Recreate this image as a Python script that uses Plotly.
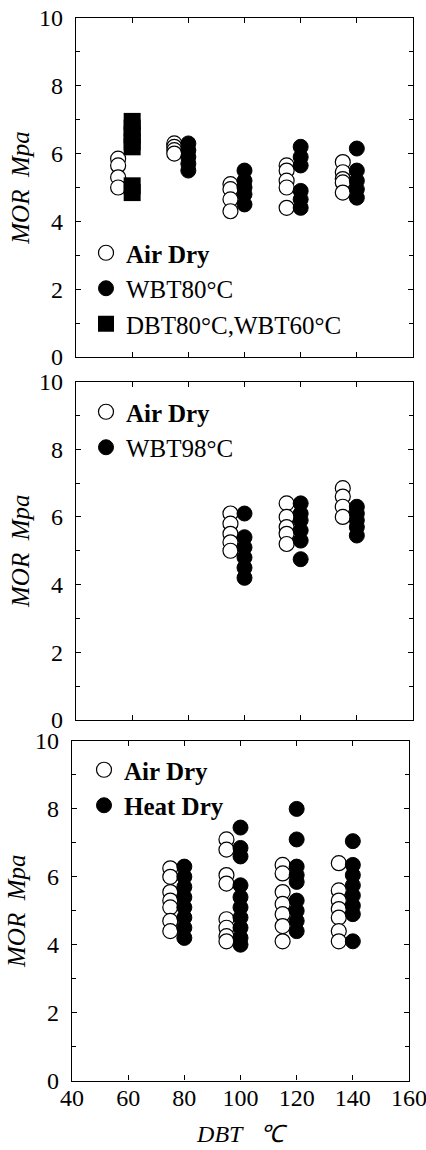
import plotly.graph_objects as go

# ---------------- data ----------------
# Panel 1
p1_air_x = [55]*4 + [75]*4 + [95]*4 + [115]*5 + [135]*5
p1_air_y = [5.85, 5.65, 5.3, 5.0,
            6.3, 6.2, 6.1, 6.0,
            5.1, 4.95, 4.65, 4.3,
            5.65, 5.5, 5.2, 5.0, 4.4,
            5.75, 5.45, 5.25, 5.15, 4.85]
p1_wbt80_x = [80]*5 + [100]*5 + [120]*6 + [140]*5
p1_wbt80_y = [6.3, 6.1, 5.9, 5.7, 5.5,
              5.5, 5.2, 5.0, 4.8, 4.5,
              6.2, 5.9, 5.65, 4.9, 4.65, 4.4,
              6.15, 5.5, 5.2, 4.95, 4.7]
p1_dbt_x = [60]*7
p1_dbt_y = [6.95, 6.75, 6.55, 6.35, 6.2, 5.05, 4.85]

# Panel 2
p2_air_x = [95]*5 + [115]*5 + [135]*4
p2_air_y = [6.1, 5.8, 5.5, 5.25, 5.0,
            6.4, 6.0, 5.7, 5.5, 5.2,
            6.85, 6.6, 6.3, 6.0]
p2_wbt98_x = [100]*6 + [120]*6 + [140]*5
p2_wbt98_y = [6.1, 5.4, 5.1, 4.8, 4.5, 4.2,
              6.4, 6.1, 5.9, 5.6, 5.3, 4.75,
              6.3, 6.1, 5.9, 5.7, 5.45]

# Panel 3
p3_air_x = [75]*7 + [95]*8 + [115]*7 + [135]*7
p3_air_y = [6.25, 6.0, 5.55, 5.3, 5.1, 4.7, 4.4,
            7.1, 6.8, 6.05, 5.8, 4.75, 4.5, 4.25, 4.1,
            6.35, 6.1, 5.55, 5.2, 4.9, 4.55, 4.1,
            6.4, 5.6, 5.3, 5.05, 4.8, 4.4, 4.1]
p3_heat_x = [80]*8 + [100]*10 + [120]*9 + [140]*8
p3_heat_y = [6.3, 6.0, 5.7, 5.4, 5.1, 4.8, 4.5, 4.2,
             7.45, 6.85, 6.6, 5.75, 5.4, 5.1, 4.8, 4.5, 4.2, 4.0,
             8.0, 7.1, 6.3, 6.05, 5.85, 5.3, 5.0, 4.7, 4.4,
             7.05, 6.35, 6.05, 5.75, 5.45, 5.15, 4.9, 4.1]

x_ticks = [40, 60, 80, 100, 120, 140, 160]
y_ticks = [0, 2, 4, 6, 8, 10]

# ---------------- figure ----------------
W, H = 426, 1150
SERIF = "Liberation Serif, Times New Roman, serif"

def open_marker():
    return dict(symbol="circle", size=15, color="white",
                line=dict(color="black", width=1.2))

def filled_marker():
    return dict(symbol="circle", size=15, color="black",
                line=dict(color="black", width=1))

fig = go.Figure()

# panel 1
fig.add_trace(go.Scatter(x=p1_air_x, y=p1_air_y, mode="markers", name="<b>Air Dry</b>",
                         marker=open_marker(), xaxis="x", yaxis="y", legend="legend"))
fig.add_trace(go.Scatter(x=p1_wbt80_x, y=p1_wbt80_y, mode="markers", name="WBT80°C",
                         marker=filled_marker(), xaxis="x", yaxis="y", legend="legend"))
fig.add_trace(go.Scatter(x=p1_dbt_x, y=p1_dbt_y, mode="markers", name="DBT80°C,WBT60°C",
                         marker=dict(symbol="square", size=17, color="black",
                                     line=dict(color="black", width=0)),
                         xaxis="x", yaxis="y", legend="legend"))
# panel 2
fig.add_trace(go.Scatter(x=p2_air_x, y=p2_air_y, mode="markers", name="<b>Air Dry</b>",
                         marker=open_marker(), xaxis="x2", yaxis="y2", legend="legend2"))
fig.add_trace(go.Scatter(x=p2_wbt98_x, y=p2_wbt98_y, mode="markers", name="WBT98°C",
                         marker=filled_marker(), xaxis="x2", yaxis="y2", legend="legend2"))
# panel 3
fig.add_trace(go.Scatter(x=p3_air_x, y=p3_air_y, mode="markers", name="<b>Air Dry</b>",
                         marker=open_marker(), xaxis="x3", yaxis="y3", legend="legend3"))
fig.add_trace(go.Scatter(x=p3_heat_x, y=p3_heat_y, mode="markers", name="<b>Heat Dry</b>",
                         marker=filled_marker(), xaxis="x3", yaxis="y3", legend="legend3"))

def px_x(p):
    return p / W

def px_y(p):
    return 1 - p / H

def xaxis(domain, show_labels, anchor, title=None):
    d = dict(domain=domain, range=[40, 160], tickvals=x_ticks, automargin=False,
             ticks="inside", ticklen=5, tickwidth=1, tickcolor="black",
             showline=True, linecolor="black", linewidth=1.2, mirror="allticks",
             showgrid=False, zeroline=False, anchor=anchor,
             showticklabels=show_labels, ticklabelstandoff=-4, ticklabeloverflow="allow",
             tickfont=dict(family=SERIF, size=24, color="black"))
    if title:
        d["title"] = dict(text=title, font=dict(family=SERIF, size=24, color="black", style="italic"),
                          standoff=14)
    return d

def yaxis(domain, anchor):
    return dict(domain=domain, range=[0, 10], tickvals=y_ticks, automargin=False,
                ticks="inside", ticklen=5, tickwidth=1, tickcolor="black",
                minor=dict(dtick=1, ticks="inside", ticklen=4, tickcolor="black", showgrid=False),
                showline=True, linecolor="black", linewidth=1.2, mirror="allticks",
                showgrid=False, zeroline=False, anchor=anchor, ticklabelstandoff=7,
                ticklabeloverflow="allow",
                tickfont=dict(family=SERIF, size=24, color="black"),
                title=dict(text="MOR  Mpa", font=dict(family=SERIF, size=25, color="black", style="italic"),
                           standoff=2))

x12_dom = [px_x(76), px_x(413)]
x3_dom = [px_x(72), px_x(409)]

legend_common = dict(font=dict(family=SERIF, size=25, color="black"),
                     bgcolor="rgba(0,0,0,0)", itemsizing="trace",
                     xanchor="left", yanchor="top", borderwidth=0)

fig.update_layout(
    width=W, height=H, margin=dict(l=0, r=0, t=0, b=0, autoexpand=False),
    paper_bgcolor="white", plot_bgcolor="white", showlegend=True,
    xaxis=xaxis(x12_dom, False, "y"),
    yaxis=yaxis([px_y(357), px_y(18)], "x"),
    xaxis2=xaxis(x12_dom, False, "y2"),
    yaxis2=yaxis([px_y(720), px_y(381.5)], "x2"),
    xaxis3=xaxis(x3_dom, True, "y3", title="DBT   ℃"),
    yaxis3=yaxis([px_y(1080.5), px_y(741)], "x3"),
    legend=dict(x=px_x(86), y=px_y(230), **legend_common),
    legend2=dict(x=px_x(86), y=px_y(389), **legend_common),
    legend3=dict(x=px_x(84), y=px_y(747), **legend_common),
)

fig.write_html("out.html", config={"displayModeBar": False},
               post_script="document.body.style.margin='0';")
